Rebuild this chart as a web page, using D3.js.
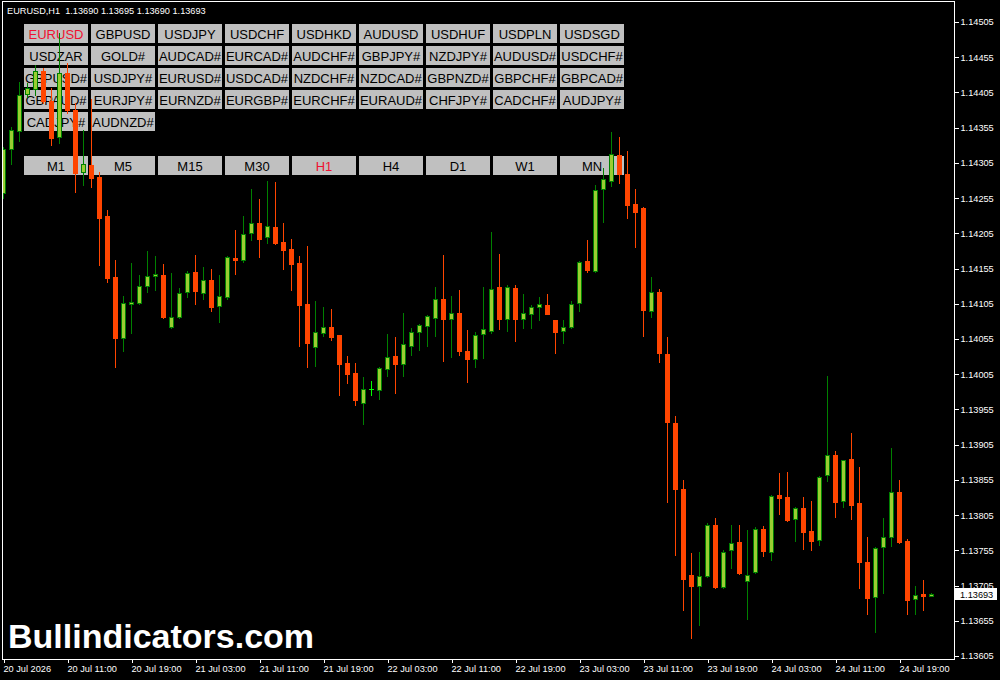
<!DOCTYPE html>
<html><head><meta charset="utf-8">
<script src="https://cdn.jsdelivr.net/npm/d3@7/dist/d3.min.js"></script>
<style>
html,body{margin:0;padding:0;background:#000;}
svg{display:block;}
</style></head>
<body>
<svg id="c" width="1000" height="680"></svg>
<script>
// ---- DATA ----
const symbol = "EURUSD,H1";
const open = [1.14262,1.14325,1.14350,1.14403,1.14410,1.14435,1.14393,1.14342,1.14433,1.14380,
1.14292,1.14302,1.14285,1.14230,1.14143,1.14056,1.14105,1.14106,1.14130,1.14145,
1.14146,1.14072,1.14086,1.14122,1.14150,1.14120,1.14139,1.14102,1.14115,1.14170,
1.14167,1.14205,1.14220,1.14200,1.14214,1.14193,1.14183,1.14163,1.14105,1.14044,
1.14063,1.14072,1.14061,1.14021,1.14007,1.13964,1.13984,1.13983,1.14012,1.14031,
1.14019,1.14045,1.14065,1.14073,1.14085,1.14112,1.14083,1.14092,1.14038,1.14027,
1.14062,1.14066,1.14129,1.14083,1.14127,1.14083,1.14090,1.14100,1.14103,1.14082,
1.14066,1.14072,1.14106,1.14166,1.14152,1.14268,1.14279,1.14316,1.14289,1.14247,
1.14241,1.14095,1.14122,1.14034,1.13936,1.13842,1.13720,1.13704,1.13718,1.13791,
1.13703,1.13755,1.13767,1.13711,1.13724,1.13785,1.13753,1.13834,1.13831,1.13799,
1.13815,1.13782,1.13770,1.13862,1.13890,1.13825,1.13885,1.13822,1.13738,1.13689,
1.13760,1.13774,1.13838,1.13768,1.13686,1.13693,1.13690];
const high = [1.14328,1.14356,1.14420,1.14418,1.14444,1.14440,1.14411,1.14489,1.14447,1.14390,
1.14352,1.14396,1.14292,1.14238,1.14167,1.14116,1.14163,1.14146,1.14180,1.14173,
1.14161,1.14149,1.14127,1.14152,1.14174,1.14157,1.14154,1.14146,1.14173,1.14210,
1.14230,1.14268,1.14254,1.14279,1.14278,1.14220,1.14197,1.14173,1.14187,1.14109,
1.14100,1.14098,1.14061,1.14031,1.14021,1.14001,1.13995,1.14015,1.14062,1.14058,
1.14092,1.14071,1.14076,1.14089,1.14129,1.14174,1.14116,1.14124,1.14068,1.14065,
1.14129,1.14207,1.14176,1.14132,1.14132,1.14119,1.14103,1.14115,1.14119,1.14082,
1.14082,1.14109,1.14166,1.14196,1.14274,1.14298,1.14349,1.14342,1.14322,1.14268,
1.14242,1.14143,1.14126,1.14058,1.13946,1.13855,1.13751,1.13753,1.13794,1.13801,
1.13755,1.13791,1.13791,1.13784,1.13788,1.13790,1.13834,1.13865,1.13866,1.13816,
1.13831,1.13825,1.13860,1.14002,1.13896,1.13883,1.13922,1.13873,1.13774,1.13760,
1.13801,1.13900,1.13855,1.13771,1.13704,1.13713,1.13695];
const low = [1.14255,1.14303,1.14336,1.14398,1.14401,1.14390,1.14330,1.14333,1.14376,1.14264,
1.14274,1.14271,1.14160,1.14136,1.14015,1.14038,1.14063,1.14105,1.14122,1.14124,
1.14085,1.14071,1.14085,1.14115,1.14105,1.14112,1.14095,1.14079,1.14112,1.14147,
1.14164,1.14196,1.14171,1.14191,1.14190,1.14154,1.14124,1.14045,1.14015,1.14017,
1.14059,1.14054,1.13975,1.13992,1.13961,1.13934,1.13975,1.13970,1.14002,1.13978,
1.14002,1.14032,1.14039,1.14045,1.14059,1.14024,1.14029,1.14032,1.13994,1.14015,
1.14028,1.14063,1.14069,1.14066,1.14052,1.14071,1.14071,1.14082,1.14090,1.14035,
1.14049,1.14071,1.14095,1.14150,1.14150,1.14221,1.14272,1.14276,1.14227,1.14186,
1.14059,1.14086,1.14022,1.13824,1.13748,1.13670,1.13630,1.13649,1.13717,1.13701,
1.13701,1.13730,1.13721,1.13657,1.13723,1.13747,1.13741,1.13807,1.13797,1.13768,
1.13757,1.13755,1.13762,1.13853,1.13802,1.13816,1.13799,1.13701,1.13665,1.13639,
1.13694,1.13761,1.13765,1.13665,1.13665,1.13670,1.13690];
const close = [1.14325,1.14352,1.14401,1.14411,1.14435,1.14393,1.14340,1.14433,1.14380,1.14291,
1.14303,1.14284,1.14227,1.14142,1.14056,1.14106,1.14107,1.14130,1.14144,1.14147,
1.14086,1.14086,1.14120,1.14149,1.14123,1.14139,1.14100,1.14116,1.14171,1.14167,
1.14204,1.14220,1.14197,1.14215,1.14191,1.14181,1.14161,1.14103,1.14049,1.14065,
1.14072,1.14058,1.14019,1.14005,1.13968,1.13984,1.13984,1.14014,1.14029,1.14019,
1.14048,1.14065,1.14075,1.14088,1.14112,1.14083,1.14092,1.14038,1.14027,1.14061,
1.14069,1.14126,1.14083,1.14129,1.14083,1.14092,1.14100,1.14105,1.14090,1.14065,
1.14072,1.14105,1.14164,1.14153,1.14266,1.14282,1.14318,1.14289,1.14245,1.14235,
1.14096,1.14122,1.14035,1.13937,1.13842,1.13714,1.13704,1.13718,1.13791,1.13703,
1.13753,1.13765,1.13723,1.13720,1.13785,1.13754,1.13832,1.13829,1.13798,1.13815,
1.13781,1.13768,1.13859,1.13890,1.13824,1.13883,1.13819,1.13738,1.13687,1.13758,
1.13774,1.13838,1.13767,1.13684,1.13692,1.13690,1.13693];
const yTicks = [1.13605,1.13655,1.13705,1.13755,1.13805,1.13855,1.13905,1.13955,1.14005,1.14055,
1.14105,1.14155,1.14205,1.14255,1.14305,1.14355,1.14405,1.14455,1.14505];
const xTickIndex = [0,8,16,24,32,40,48,56,64,72,80,88,96,104,112];
const xTickLabels = ["20 Jul 2026","20 Jul 11:00","20 Jul 19:00","21 Jul 03:00","21 Jul 11:00","21 Jul 19:00",
"22 Jul 03:00","22 Jul 11:00","22 Jul 19:00","23 Jul 03:00","23 Jul 11:00","23 Jul 19:00",
"24 Jul 03:00","24 Jul 11:00","24 Jul 19:00"];
const symbolRows = [
 ["EURUSD","GBPUSD","USDJPY","USDCHF","USDHKD","AUDUSD","USDHUF","USDPLN","USDSGD"],
 ["USDZAR","GOLD#","AUDCAD#","EURCAD#","AUDCHF#","GBPJPY#","NZDJPY#","AUDUSD#","USDCHF#"],
 ["GBPUSD#","USDJPY#","EURUSD#","USDCAD#","NZDCHF#","NZDCAD#","GBPNZD#","GBPCHF#","GBPCAD#"],
 ["GBPAUD#","EURJPY#","EURNZD#","EURGBP#","EURCHF#","EURAUD#","CHFJPY#","CADCHF#","AUDJPY#"],
 ["CADJPY#","AUDNZD#"]
];
const timeframes = ["M1","M5","M15","M30","H1","H4","D1","W1","MN"];
const activeSymbol = "EURUSD";
const activeTf = "H1";
const watermark = "Bullindicators.com";

// ---- DRAW ----
const svg = d3.select("#c");
const F = "'Liberation Sans', Arial, sans-serif";
svg.append("rect").attr("width",1000).attr("height",680).attr("fill","#000");

const x = d3.scaleLinear().domain([0, open.length-1]).range([3, 931]);
const y = d3.scaleLinear().domain([1.13605, 1.14505]).range([656, 22]);

// buttons (under the candles)
const bx = d3.scaleLinear().domain([0,1]).range([24,91]);
const by = d3.scaleLinear().domain([0,1]).range([24,46]);
const btn = svg.append("g");
symbolRows.forEach((row,r)=>{
  row.forEach((s,c)=>{
    btn.append("rect").attr("x",bx(c)).attr("y",by(r)).attr("width",64).attr("height",19)
      .attr("fill","#c0c0c0").attr("shape-rendering","crispEdges");
    btn.append("text").attr("x",bx(c)+32).attr("y",by(r)+14.5).attr("text-anchor","middle")
      .attr("font-family",F).attr("font-size",13)
      .attr("fill", s===activeSymbol ? "#f01030" : "#000").text(s);
  });
});
timeframes.forEach((t,c)=>{
  btn.append("rect").attr("x",bx(c)).attr("y",156).attr("width",64).attr("height",19)
    .attr("fill","#c0c0c0").attr("shape-rendering","crispEdges");
  btn.append("text").attr("x",bx(c)+32).attr("y",156+14.5).attr("text-anchor","middle")
    .attr("font-family",F).attr("font-size",13)
    .attr("fill", t===activeTf ? "#f01030" : "#000").text(t);
});

// candles
svg.append("clipPath").attr("id","clip").append("rect").attr("x",3).attr("y",3).attr("width",951).attr("height",656);
const cg = svg.append("g").attr("clip-path","url(#clip)").attr("shape-rendering","crispEdges");
const bars = d3.range(open.length).map(i=>({i,o:open[i],h:high[i],l:low[i],c:close[i]}));
bars.forEach(d=>{
  const cx = Math.round(x(d.i));
  const bull = d.c > d.o, doji = d.c === d.o;
  const wickCol = doji ? "#00ff00" : (bull ? "#008000" : "#ff4500");
  const yh = Math.round(y(d.h)), yl = Math.round(y(d.l));
  cg.append("line").attr("x1",cx+0.5).attr("x2",cx+0.5).attr("y1",yh).attr("y2",yl+1)
    .attr("stroke",wickCol).attr("stroke-width",1);
  const yt = Math.round(y(Math.max(d.o,d.c))), yb = Math.round(y(Math.min(d.o,d.c)));
  if (doji) {
    cg.append("line").attr("x1",cx-2).attr("x2",cx+3).attr("y1",yt+0.5).attr("y2",yt+0.5)
      .attr("stroke",wickCol).attr("stroke-width",1);
  } else if (bull) {
    cg.append("rect").attr("x",cx-1.5).attr("y",yt+0.5).attr("width",4).attr("height",Math.max(1,yb-yt))
      .attr("fill","#9acd32").attr("stroke","#008000").attr("stroke-width",1);
  } else {
    cg.append("rect").attr("x",cx-2).attr("y",yt).attr("width",5).attr("height",Math.max(1,yb-yt+1))
      .attr("fill","#ff4500");
  }
});

// frame
svg.append("rect").attr("x",2.5).attr("y",1.5).attr("width",952).attr("height",657.5)
  .attr("fill","none").attr("stroke","#fff").attr("stroke-width",1).attr("shape-rendering","crispEdges");

// y axis
const ya = svg.append("g").attr("transform","translate(954.5,0)")
  .call(d3.axisRight(y).tickValues(yTicks).tickSize(4).tickPadding(2).tickFormat(d3.format(".5f")));
ya.select(".domain").remove();
ya.selectAll(".tick line").attr("stroke","#fff").attr("shape-rendering","crispEdges");
ya.selectAll("text").attr("fill","#fff").attr("font-family",F).attr("font-size",9.2);

// x axis
const xa = svg.append("g").attr("transform","translate(0,659)")
  .call(d3.axisBottom(x).tickValues(xTickIndex).tickSize(4).tickPadding(2).tickFormat((d,i)=>xTickLabels[i]));
xa.select(".domain").remove();
xa.selectAll(".tick line").attr("stroke","#fff").attr("shape-rendering","crispEdges").attr("transform","translate(0.5,0)");
xa.selectAll("text").attr("fill","#fff").attr("font-family",F).attr("font-size",9.2).attr("text-anchor","start");

// current price marker
const last = close[close.length-1];
svg.append("rect").attr("x",955).attr("y",Math.round(y(last))-6.5).attr("width",42).attr("height",12)
  .attr("fill","#fff").attr("shape-rendering","crispEdges");
svg.append("text").attr("x",960).attr("y",Math.round(y(last))+3.5).attr("font-family",F).attr("font-size",9.2)
  .attr("fill","#000").text(d3.format(".5f")(last));

// header
const fmt = d3.format(".5f");
const n = open.length-1;
svg.append("text").attr("x",7).attr("y",14).attr("font-family",F).attr("font-size",9.2).attr("fill","#fff")
  .attr("xml:space","preserve").style("white-space","pre")
  .text(symbol+"  "+fmt(open[n])+" "+fmt(high[n])+" "+fmt(low[n])+" "+fmt(close[n]));

// watermark
svg.append("text").attr("x",8).attr("y",648).attr("font-family",F).attr("font-size",34)
  .attr("font-weight","bold").attr("fill","#fff").text(watermark);
</script>
</body></html>
